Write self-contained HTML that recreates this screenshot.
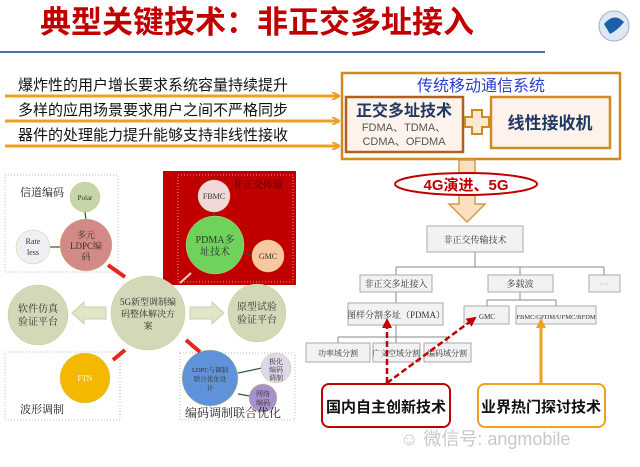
<!DOCTYPE html>
<html><head><meta charset="utf-8"><style>
html,body{margin:0;padding:0;background:#fff;}
body{width:640px;height:467px;overflow:hidden;position:relative;font-family:"Liberation Sans","Noto Sans CJK SC",sans-serif;}
svg{position:absolute;left:0;top:0;}
</style></head><body>
<svg width="640" height="467" viewBox="0 0 640 467" font-family="Liberation Sans, Noto Sans CJK SC, sans-serif">
<defs>
<marker id="ao" markerWidth="8" markerHeight="8" refX="7" refY="4" orient="auto" markerUnits="userSpaceOnUse"><path d="M0,0 L8,4 L0,8" fill="none" stroke="#f0a020" stroke-width="2"/></marker>
<marker id="ar" markerWidth="10" markerHeight="10" refX="8" refY="5" orient="auto" markerUnits="userSpaceOnUse"><path d="M0,0 L10,5 L0,10 z" fill="#c00000"/></marker>
<marker id="ay" markerWidth="10" markerHeight="10" refX="8" refY="5" orient="auto" markerUnits="userSpaceOnUse"><path d="M0,0 L10,5 L0,10 z" fill="#f0a020"/></marker>
</defs>
<!-- title -->
<text x="40" y="33" font-size="31" font-weight="bold" fill="#c00000">典型关键技术：非正交多址接入</text>
<line x1="0" y1="52" x2="545" y2="52" stroke="#4a6ea8" stroke-width="2"/>
<circle cx="614" cy="26" r="15" fill="#dce8f4" stroke="#aac" />
<path d="M604,24 Q614,12 624,22 Q618,30 610,34 Z" fill="#1a5fa8"/>
<!-- rows -->
<g font-size="15" fill="#111">
<text x="18" y="90">爆炸性的用户增长要求系统容量持续提升</text>
<text x="18" y="115">多样的应用场景要求用户之间不严格同步</text>
<text x="18" y="140">器件的处理能力提升能够支持非线性接收</text>
</g>
<g stroke="#f0a020" stroke-width="3">
<line x1="5" y1="96" x2="339" y2="96" marker-end="url(#ao)"/>
<line x1="5" y1="121" x2="339" y2="121" marker-end="url(#ao)"/>
<line x1="5" y1="146" x2="339" y2="146" marker-end="url(#ao)"/>
</g>
<rect x="342" y="73" width="278" height="86" fill="#fff" stroke="#d08a20" stroke-width="2.5"/>
<text x="481" y="91" font-size="16" fill="#2a3fc8" text-anchor="middle">传统移动通信系统</text>
<rect x="346" y="97" width="117" height="55" fill="#fdf3ea" stroke="#b06020" stroke-width="2.5"/>
<text x="404" y="116" font-size="16" font-weight="bold" fill="#1f3864" text-anchor="middle">正交多址技术</text>
<text x="404" y="131" font-size="11" fill="#555" text-anchor="middle">FDMA、TDMA、</text>
<text x="404" y="145" font-size="11" fill="#555" text-anchor="middle">CDMA、OFDMA</text>
<path d="M472,110 h10 v7 h7 v10 h-7 v7 h-10 v-7 h-7 v-10 h7 z" fill="#fde9d0" stroke="#d08a20" stroke-width="2"/>
<rect x="491" y="97" width="119" height="51" fill="#fdf3ea" stroke="#d08a20" stroke-width="2.5"/>
<text x="550" y="129" font-size="17" font-weight="bold" fill="#1f3864" text-anchor="middle">线性接收机</text>
<!-- big down arrow -->
<path d="M459,160 h16 v44 h10 l-18,18 l-18,-18 h10 z" fill="#fbe0c0" stroke="#d09a50" stroke-width="1.5"/>
<ellipse cx="466" cy="184" rx="71" ry="11" fill="#fff" stroke="#c00000" stroke-width="2"/>
<text x="466" y="190" font-size="15" font-weight="bold" fill="#c00000" text-anchor="middle">4G演进、5G</text>
<!-- tree -->
<g stroke="#888" fill="none" stroke-width="1">
<line x1="475" y1="252" x2="475" y2="267"/>
<line x1="396" y1="267" x2="604" y2="267"/>
<line x1="396" y1="267" x2="396" y2="275"/><line x1="520" y1="267" x2="520" y2="275"/><line x1="604" y1="267" x2="604" y2="275"/>
<line x1="396" y1="292" x2="396" y2="303"/>
<line x1="520" y1="292" x2="520" y2="300"/><line x1="487" y1="300" x2="556" y2="300"/><line x1="487" y1="300" x2="487" y2="306"/><line x1="556" y1="300" x2="556" y2="306"/>
<line x1="396" y1="325" x2="396" y2="337"/><line x1="338" y1="337" x2="447" y2="337"/><line x1="338" y1="337" x2="338" y2="343"/><line x1="396" y1="337" x2="396" y2="343"/><line x1="447" y1="337" x2="447" y2="343"/>
</g>
<g fill="#f2f2f2" stroke="#aaa" stroke-width="1">
<rect x="427" y="226" width="96" height="26"/>
<rect x="360" y="275" width="72" height="17"/>
<rect x="488" y="275" width="65" height="17"/>
<rect x="589" y="275" width="31" height="17"/>
<rect x="348" y="303" width="95" height="22"/>
<rect x="464" y="306" width="45" height="18"/>
<rect x="516" y="306" width="80" height="18"/>
<rect x="306" y="343" width="64" height="19"/>
<rect x="373" y="343" width="47" height="19"/>
<rect x="424" y="343" width="47" height="19"/>
</g>
<g font-size="9" fill="#333" text-anchor="middle" font-family="Liberation Serif, Noto Serif CJK SC, serif">
<text x="475" y="243">非正交传输技术</text>
<text x="396" y="287">非正交多址接入</text>
<text x="520" y="287">多载波</text>
<text x="604" y="287" fill="#aaa">···</text>
<text x="396" y="318">图样分割多址（PDMA）</text>
<text x="487" y="319" font-size="7">GMC</text>
<text x="556" y="319" font-size="6.5">FBMC/GFDM/UFMC/BFDM</text>
<text x="338" y="356" font-size="8">功率域分割</text>
<text x="396" y="356" font-size="8">广义空域分割</text>
<text x="447" y="356" font-size="8">编码域分割</text>
</g>
<g stroke="#c00000" stroke-width="2.5" stroke-dasharray="6,3" fill="none">
<line x1="387" y1="383" x2="387" y2="320" marker-end="url(#ar)"/>
<line x1="387" y1="383" x2="475" y2="318" marker-end="url(#ar)"/>
</g>
<line x1="541" y1="384" x2="541" y2="320" stroke="#f0a020" stroke-width="3" marker-end="url(#ay)"/>
<rect x="322" y="384" width="128" height="43" rx="7" fill="#fff" stroke="#c00000" stroke-width="2"/>
<text x="386" y="412" font-size="15" font-weight="bold" fill="#111" text-anchor="middle">国内自主创新技术</text>
<rect x="478" y="384" width="127" height="43" rx="7" fill="#fff" stroke="#f0a020" stroke-width="2"/>
<text x="541" y="412" font-size="15" font-weight="bold" fill="#111" text-anchor="middle">业界热门探讨技术</text>
<text x="400" y="445" font-size="18" fill="#c8c8c8">☺ 微信号: angmobile</text>
<!-- left diagram -->
<g fill="none" stroke="#bbb" stroke-dasharray="1,2">
<rect x="5" y="175" width="113" height="97"/>
<rect x="5" y="352" width="115" height="68"/>
<rect x="180" y="353" width="115" height="67"/>
</g>
<rect x="163" y="171" width="133" height="114" fill="#c00000"/>
<rect x="178" y="175" width="115" height="107" fill="none" stroke="#e88" stroke-dasharray="1,2"/>
<text x="233" y="188" font-size="10" fill="#400" font-family="Liberation Serif, Noto Serif CJK SC, serif">非正交传输</text>
<g stroke="#354" stroke-width="1.2">
<line x1="85" y1="212" x2="86" y2="220"/><line x1="50" y1="247" x2="60" y2="247"/>
<line x1="214" y1="212" x2="214" y2="216"/><line x1="240" y1="252" x2="253" y2="256"/>
<line x1="238" y1="373" x2="262" y2="368"/><line x1="238" y1="394" x2="250" y2="396"/>
</g>
<g stroke="#cc8" stroke-width="0.5" font-family="Liberation Serif, Noto Serif CJK SC, serif" text-anchor="middle">
<circle cx="85" cy="197" r="15" fill="#c6d6a8"/>
<circle cx="33" cy="247" r="17" fill="#eef0f4"/>
<circle cx="86" cy="245" r="26" fill="#d38a86"/>
<circle cx="214" cy="196" r="16" fill="#f2d8d8"/>
<circle cx="215" cy="245" r="29" fill="#6fd25a"/>
<circle cx="268" cy="256" r="16" fill="#f8c8a0"/>
<circle cx="148" cy="313" r="37" fill="#d4d8b8"/>
<circle cx="38" cy="315" r="30" fill="#d4d8b8"/>
<circle cx="257" cy="313" r="29" fill="#d4d8b8"/>
<circle cx="85" cy="378" r="25" fill="#f5b800"/>
<circle cx="210" cy="378" r="28" fill="#5f92d8"/>
<circle cx="276" cy="368" r="15" fill="#ddd8ea"/>
<circle cx="263" cy="398" r="14" fill="#a890cc"/>
</g>
<g font-size="9" fill="#333" text-anchor="middle" font-family="Liberation Serif, Noto Serif CJK SC, serif">
<text x="85" y="200" font-size="7">Polar</text>
<text x="33" y="244" font-size="8">Rate</text><text x="33" y="255" font-size="8">less</text>
<text x="86" y="238">多元</text><text x="86" y="249">LDPC编</text><text x="86" y="260">码</text>
<text x="214" y="199" font-size="8">FBMC</text>
<text x="215" y="243" font-size="10">PDMA多</text><text x="215" y="255" font-size="10">址技术</text>
<text x="268" y="259" font-size="8">GMC</text>
<text x="148" y="305">5G新型调制编</text><text x="148" y="317">码整体解决方</text><text x="148" y="329">案</text>
<text x="38" y="312" font-size="10">软件仿真</text><text x="38" y="325" font-size="10">验证平台</text>
<text x="257" y="310" font-size="10">原型试验</text><text x="257" y="323" font-size="10">验证平台</text>
<text x="85" y="381" fill="#fff" font-size="8">FTN</text>
<text x="210" y="372" font-size="6.5">LDPC与调制</text><text x="210" y="381" font-size="6.5">联合优化设</text><text x="210" y="390" font-size="6.5">计</text>
<text x="276" y="364" font-size="7">极化</text><text x="276" y="372" font-size="7">编码</text><text x="276" y="380" font-size="7">调制</text>
<text x="263" y="396" font-size="7">网络</text><text x="263" y="405" font-size="7">编码</text>
</g>
<g font-size="11" fill="#222" font-family="Liberation Serif, Noto Serif CJK SC, serif">
<text x="20" y="196">信道编码</text>
<text x="20" y="413">波形调制</text>
<text x="185" y="417" font-size="12">编码调制联合优化</text>
</g>
<g stroke="#e8261c" stroke-width="4">
<line x1="108" y1="265" x2="125" y2="277"/>
<line x1="113" y1="360" x2="125" y2="350"/>
<line x1="186" y1="340" x2="200" y2="352"/>
</g>
<line x1="180" y1="283" x2="191" y2="273" stroke="#fcc" stroke-width="2"/>
<path d="M106,307 h-22 v-5 l-12,11 l12,11 v-5 h22 z" fill="#dfe6c8" stroke="#c8d0b0"/>
<path d="M190,307 h22 v-5 l12,11 l-12,11 v-5 h-22 z" fill="#dfe6c8" stroke="#c8d0b0"/>
</svg>
</body></html>
